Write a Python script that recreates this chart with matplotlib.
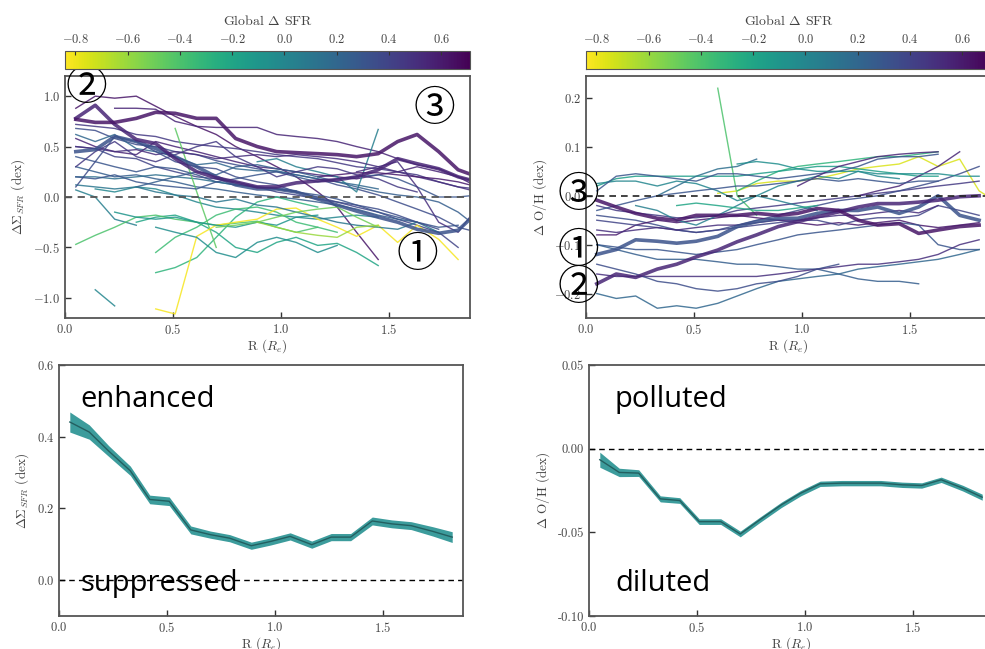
import numpy as np
import matplotlib.pyplot as plt
import matplotlib as mpl

plt.rcParams['font.family'] = 'serif'
plt.rcParams['font.serif'] = ['cmr10', 'DejaVu Serif']
plt.rcParams['mathtext.fontset'] = 'cm'
plt.rcParams['axes.formatter.use_mathtext'] = True
plt.rcParams['axes.unicode_minus'] = True

# radial bins (R / Re)
r_bins = [0.05, 0.14, 0.23, 0.33, 0.42, 0.51, 0.61, 0.70, 0.79, 0.89, 0.98,
          1.07, 1.17, 1.26, 1.35, 1.45, 1.54, 1.63, 1.73, 1.82, 1.91]

# --- individual galaxy profiles: (global dSFR, first bin, values) ---
sfr_thin = [
    (0.62, 0, [0.88, 1.00, 0.98, 1.00, 0.90, 0.80, 0.70, 0.62, 0.50, 0.40, 0.30, 0.20, 0.05, -0.10, -0.35, -0.62]),
    (0.55, 2, [0.88, 0.88, 0.87, 0.75, 0.70, 0.69, 0.69, 0.69, 0.62, 0.60, 0.58, 0.55, 0.50, 0.45, 0.38, 0.32, 0.28, 0.20, 0.10]),
    (0.45, 0, [0.72, 0.70, 0.68, 0.62, 0.60, 0.55, 0.52, 0.50, 0.48, 0.45, 0.42, 0.40, 0.38, 0.34, 0.30, 0.28, 0.25, 0.22, 0.15, 0.10, 0.08]),
    (0.35, 0, [0.68, 0.66, 0.58, 0.52, 0.50, 0.45, 0.42, 0.36, 0.32, 0.28, 0.25, 0.22, 0.18, 0.12, 0.08, 0.02, -0.05, -0.12, -0.20, -0.30, -0.35]),
    (0.20, 0, [0.62, 0.55, 0.62, 0.48, 0.45, 0.40, 0.32, 0.34, 0.28, 0.26, 0.26, 0.22, 0.18, 0.15, 0.12, 0.08]),
    (0.55, 0, [0.58, 0.50, 0.45, 0.42, 0.55, 0.50, 0.45, 0.40, 0.35, 0.30, 0.28, 0.25, 0.22, 0.20, 0.18, 0.22, 0.25, 0.30, 0.25, 0.20, 0.15]),
    (0.40, 0, [0.50, 0.48, 0.40, 0.38, 0.30, 0.25, 0.20, 0.18, 0.15, 0.10, 0.05, 0.02, -0.02, -0.05, -0.10, -0.15, -0.22, -0.28, -0.35, -0.50]),
    (0.30, 0, [0.40, 0.35, 0.30, 0.25, 0.30, 0.28, 0.22, 0.15, 0.12, 0.10, 0.08, 0.05, 0.02, -0.02, -0.08, -0.15, -0.20, -0.25, -0.30, -0.28]),
    (0.25, 0, [0.30, 0.25, 0.20, 0.22, 0.18, 0.15, 0.10, 0.08, 0.05, 0.02, 0.00, -0.02, -0.05, -0.08, -0.12, -0.18, -0.22, -0.25]),
    (0.15, 0, [0.20, 0.20, 0.18, 0.20, 0.22, 0.20, 0.18, 0.15, 0.12, 0.10, 0.08, 0.06]),
    (0.05, 0, [0.07, 0.00, -0.22, -0.28]),
    (0.00, 1, [0.08, 0.05, 0.10, 0.08, 0.02, -0.05, -0.10, -0.12, -0.15, -0.18, -0.20, -0.22, -0.20, -0.18, -0.20]),
    (-0.20, 3, [-0.25, -0.20, -0.18, -0.25, -0.35, -0.50, -0.55, -0.45, -0.40, -0.48, -0.46, -0.55, -0.68]),
    (-0.40, 0, [-0.47, -0.38, -0.30, -0.20, -0.18, -0.22, -0.25, -0.28, -0.26, -0.24, -0.30, -0.35, -0.30]),
    (-0.35, 4, [-0.55, -0.40, -0.30, -0.18, -0.12, -0.10, -0.15, -0.25, -0.30, -0.35]),
    (-0.30, 4, [-0.75, -0.70, -0.60, -0.40, -0.20, -0.05, 0.00, -0.05, -0.10]),
    (-0.45, 5, [0.68, 0.05, -0.50]),
    (0.05, 9, [0.35, 0.38, 0.30, 0.25, 0.20, 0.05, 0.67]),
    (-0.82, 4, [-1.11, -1.16, -0.39, -0.28, -0.25, -0.22, -0.12, -0.11, -0.22, -0.30, -0.39, -0.28, -0.45, -0.28, -0.42, -0.62]),
    (0.00, 1, [-0.92, -1.08]),
    (0.50, 0, [0.50, 0.48, 0.45, 0.47, 0.42, 0.45, 0.42, 0.38, 0.40, 0.42, 0.40, 0.42, 0.40, 0.38, 0.35, 0.30, 0.25, 0.20, 0.15, 0.10, 0.05]),
    (0.30, 0, [0.20, 0.18, 0.22, 0.15, 0.12, 0.10, 0.08, 0.15, 0.18, 0.22, 0.25, 0.20, 0.15, 0.18, 0.20, 0.22, 0.18, 0.10, 0.00, 0.00, 0.02]),
    (0.60, 12, [0.20, 0.22, 0.24, 0.24, 0.22, 0.20, 0.18, 0.15, 0.10]),
    (0.25, 3, [0.10, 0.15, 0.20, 0.25, 0.22, 0.30, 0.32, 0.28, 0.25, 0.20, 0.15, 0.10, 0.05, 0.02, 0.00, -0.05, -0.15, -0.30]),
    (0.50, 14, [0.25, 0.30, 0.35, 0.10, -0.25, -0.35, -0.10]),
    (0.10, 0, [0.12, 0.10, 0.08, 0.10, 0.05, 0.02, 0.00, -0.05, -0.02, -0.08, -0.10, -0.15, -0.20, -0.25, -0.28, -0.30, -0.32, -0.25, -0.35]),
    (-0.10, 2, [-0.15, -0.20, -0.22, -0.20, -0.25, -0.28, -0.30, -0.25, -0.28, -0.20, -0.18]),
    (-0.05, 4, [-0.30, -0.35, -0.40, -0.55, -0.60, -0.45, -0.40, -0.45, -0.55, -0.48]),
    (0.45, 0, [0.30, 0.45, 0.55, 0.40, 0.35, 0.42, 0.50, 0.55, 0.40, 0.30, 0.20, 0.25, 0.30, 0.28, 0.22, 0.18, 0.10, 0.05]),
    (0.35, 0, [0.10, 0.35, 0.60, 0.55, 0.45, 0.35, 0.30, 0.28, 0.20, 0.15, 0.12, 0.05, 0.00, -0.05, -0.08, -0.12, -0.18, -0.25, -0.32]),
    (-0.50, 7, [-0.30, -0.28, -0.25, -0.20, -0.15, -0.12, -0.10, -0.20, -0.30]),
    (-0.60, 9, [-0.25, -0.30, -0.35, -0.38, -0.40, -0.30, -0.28]),
]

sfr_thick = [
    (0.32, 0, [0.45, 0.47, 0.60, 0.55, 0.48, 0.40, 0.30, 0.20, 0.12, 0.08, 0.08, 0.05, -0.02, -0.08, -0.14, -0.20, -0.25, -0.32, -0.36, -0.33, -0.15]),
    (0.55, 0, [0.78, 0.91, 0.72, 0.57, 0.53, 0.38, 0.25, 0.19, 0.15, 0.10, 0.10, 0.14, 0.16, 0.17, 0.20, 0.27, 0.38, 0.33, 0.28, 0.20, 0.15]),
    (0.62, 0, [0.77, 0.74, 0.74, 0.78, 0.84, 0.83, 0.78, 0.78, 0.58, 0.50, 0.45, 0.44, 0.43, 0.42, 0.40, 0.43, 0.55, 0.62, 0.45, 0.27, 0.20]),
]

oh_thin = [
    (-0.40, 6, [0.22, 0.00, -0.04]),
    (-0.75, 6, [0.005, 0.01, 0.025, 0.03, 0.03, 0.035, 0.045, 0.055, 0.06, 0.065, 0.08, 0.06, 0.075, 0.01, -0.015]),
    (-0.30, 7, [0.01, 0.03, 0.05, 0.06, 0.065, 0.07, 0.075, 0.08, 0.08, 0.085, 0.09]),
    (-0.15, 0, [0.02, 0.035, 0.04, 0.04, 0.04, 0.04, 0.04, 0.04, 0.045, 0.05, 0.055, 0.06, 0.06, 0.055, 0.05, 0.045, 0.04, 0.04]),
    (0.00, 0, [0.025, 0.03, 0.03, 0.02, 0.03, 0.025, 0.01, -0.01, 0.00, 0.02, 0.03, 0.04, 0.035, 0.05, 0.04, 0.035]),
    (0.30, 0, [0.01, 0.04, 0.045, 0.04, 0.035, 0.03, 0.045, 0.045, 0.04, 0.035, 0.04, 0.045, 0.05, 0.06, 0.075, 0.08, 0.08, 0.085]),
    (0.55, 10, [0.02, 0.04, 0.06, 0.07, 0.08, 0.085, 0.088, 0.09]),
    (0.15, 3, [0.00, 0.02, 0.04, 0.055, 0.06, 0.075]),
    (0.45, 0, [-0.02, -0.03, -0.035, -0.04, -0.045, -0.045, -0.04, -0.03, -0.025, -0.02, -0.015, -0.01, -0.005, 0.00, 0.005, 0.01, 0.015, 0.02, 0.025, 0.03]),
    (0.35, 0, [-0.04, -0.045, -0.05, -0.06, -0.07, -0.075, -0.07, -0.06, -0.05, -0.04, -0.03, -0.02, -0.01, -0.005, 0.00, 0.01, 0.02, 0.03, 0.045, 0.06]),
    (0.60, 0, [-0.08, -0.08, -0.06, -0.05, -0.055, -0.05, -0.045, -0.04, -0.045, -0.05, -0.055, -0.06, -0.055, -0.06, -0.055, -0.05, -0.06, -0.065, -0.06, -0.055]),
    (0.30, 0, [-0.10, -0.105, -0.11, -0.11, -0.115, -0.12, -0.115, -0.11, -0.10, -0.09, -0.08, -0.075, -0.07, -0.065, -0.06, -0.055, -0.06, -0.10, -0.11, -0.11]),
    (0.25, 0, [-0.10, -0.11, -0.12, -0.13, -0.13, -0.13, -0.135, -0.14, -0.14, -0.145, -0.15, -0.15, -0.16, -0.17, -0.175, -0.175, -0.18]),
    (0.20, 0, [-0.20, -0.21, -0.205, -0.23, -0.225, -0.23, -0.22, -0.205, -0.19, -0.175, -0.17, -0.165, -0.16, -0.15, -0.145, -0.14, -0.135, -0.13, -0.12, -0.11]),
    (0.50, 0, [-0.16, -0.165, -0.165, -0.165, -0.165, -0.165, -0.165, -0.165, -0.165, -0.16, -0.155, -0.15, -0.145, -0.14, -0.14, -0.135, -0.13, -0.12, -0.10, -0.09]),
    (0.35, 0, [-0.14, -0.15, -0.16, -0.175, -0.18, -0.19, -0.195, -0.19, -0.18, -0.175, -0.165, -0.15, -0.14]),
    (0.55, 13, [0.00, 0.01, 0.02, 0.04, 0.06, 0.09]),
    (0.40, 0, [-0.05, -0.055, -0.06, -0.065, -0.07, -0.075, -0.07, -0.065, -0.06, -0.055, -0.05, -0.05, -0.06, -0.05, -0.045, -0.045, -0.04, -0.02, -0.03, -0.04]),
    (0.05, 2, [-0.02, -0.03, -0.05, -0.06, -0.04, -0.02, 0.00, -0.01, -0.02, -0.03]),
    (-0.20, 4, [-0.02, -0.015, -0.02, -0.025, -0.03, -0.03, -0.025, -0.02]),
    (0.50, 0, [-0.07, -0.075, -0.07, -0.065, -0.07, -0.065, -0.06, -0.06, -0.055, -0.05, -0.05, -0.045, -0.04, -0.04, -0.035, -0.03, -0.035, -0.02]),
    (0.30, 0, [-0.03, -0.02, -0.01, 0.00, 0.005, 0.01, 0.015, 0.02, 0.02, 0.025, 0.03, 0.035, 0.03, 0.035, 0.03, 0.025, 0.03, 0.03]),
    (-0.05, 7, [0.065, 0.07, 0.065, 0.055, 0.05, 0.05, 0.05, 0.045, 0.045, 0.045, 0.045, 0.04, 0.04]),
]

oh_thick = [
    (0.32, 0, [-0.12, -0.11, -0.09, -0.093, -0.097, -0.093, -0.083, -0.063, -0.053, -0.046, -0.046, -0.036, -0.03, -0.03, -0.023, -0.036, -0.023, 0.00, -0.04, -0.05]),
    (0.55, 0, [-0.18, -0.16, -0.167, -0.15, -0.14, -0.125, -0.111, -0.094, -0.08, -0.063, -0.053, -0.043, -0.033, -0.023, -0.016, -0.016, -0.013, -0.009, -0.002, 0.00]),
    (0.62, 0, [-0.009, -0.023, -0.036, -0.046, -0.05, -0.04, -0.04, -0.04, -0.036, -0.04, -0.036, -0.026, -0.03, -0.05, -0.06, -0.057, -0.077, -0.07, -0.063, -0.06]),
]

# --- stacked (median) profiles ---
stack_r = r_bins[:20]
stack_sfr = [0.441, 0.413, 0.36, 0.305, 0.225, 0.22, 0.14, 0.127, 0.117, 0.096,
             0.108, 0.122, 0.099, 0.12, 0.12, 0.165, 0.157, 0.152, 0.136, 0.12]
stack_sfr_err = [0.028, 0.02, 0.015, 0.013, 0.012, 0.012, 0.011, 0.01, 0.01, 0.01,
                 0.01, 0.01, 0.01, 0.01, 0.01, 0.011, 0.011, 0.011, 0.013, 0.015]
stack_oh = [-0.0066, -0.0142, -0.0146, -0.030, -0.031, -0.0436, -0.0436, -0.051, -0.0426, -0.0336,
            -0.0266, -0.021, -0.0206, -0.0206, -0.0206, -0.0216, -0.022, -0.0186, -0.0236, -0.029]
stack_oh_err = [0.0045, 0.0025, 0.002, 0.0018, 0.0017, 0.0017, 0.0017, 0.0017, 0.0016, 0.0016,
                0.0016, 0.0016, 0.0016, 0.0016, 0.0016, 0.0016, 0.0016, 0.0016, 0.0017, 0.0018]

cmap = plt.get_cmap('viridis_r')
norm = mpl.colors.Normalize(vmin=-0.84, vmax=0.71)
gray = '#444444'
band_color = '#3c9c9c'
line_color = '#235f60'

fig = plt.figure(figsize=(9.85, 6.49), dpi=100)
W, H = 985.0, 649.0


def px_axes(x0, y0, x1, y1):
    return fig.add_axes([x0 / W, 1 - y1 / H, (x1 - x0) / W, (y1 - y0) / H])


def style(ax):
    for sp in ax.spines.values():
        sp.set_color('#555555')
        sp.set_linewidth(1.3)
    ax.tick_params(direction='in', length=4, width=1, colors='#333333',
                   labelsize=9, labelcolor=gray, top=False, right=False)
    ax.set_xlabel(r'R ($R_e$)', color=gray, fontsize=9.5, labelpad=0)


def draw_profiles(ax, thin, thick):
    for gval, start, vals in thin:
        ax.plot(r_bins[start:start + len(vals)], vals, color=cmap(norm(gval)),
                lw=1.0, alpha=0.85)
    for gval, start, vals in thick:
        ax.plot(r_bins[start:start + len(vals)], vals, color=cmap(norm(gval)),
                lw=2.6, alpha=0.85)


def add_cbar(x0, x1):
    cax = px_axes(x0, 51, x1, 69)
    sm = mpl.cm.ScalarMappable(norm=norm, cmap=cmap)
    cb = fig.colorbar(sm, cax=cax, orientation='horizontal')
    cax.xaxis.set_ticks_position('top')
    cax.xaxis.set_label_position('top')
    cb.set_ticks([-0.8, -0.6, -0.4, -0.2, 0.0, 0.2, 0.4, 0.6])
    cb.set_label(r'Global $\Delta$ SFR', color=gray, fontsize=10, labelpad=6)
    cb.outline.set_edgecolor('#555555')
    cax.tick_params(direction='in', length=3, colors='#333333', labelsize=9,
                    labelcolor=gray)


circ_font = dict(family=['Noto Sans CJK JP', 'DejaVu Sans'], fontsize=30,
                 ha='center', va='center', clip_on=False, zorder=10)

# top left: SFR profiles
ax1 = px_axes(65, 76, 470, 318)
draw_profiles(ax1, sfr_thin, sfr_thick)
ax1.axhline(0, color='#555555', ls='--', lw=1.3, dashes=(4, 3))
ax1.set_xlim(0, 1.875)
ax1.set_ylim(-1.2, 1.2)
ax1.set_xticks([0.0, 0.5, 1.0, 1.5])
ax1.set_yticks([-1.0, -0.5, 0.0, 0.5, 1.0])
ax1.set_ylabel(r'$\Delta\Sigma_{SFR}$ (dex)', color=gray, fontsize=9.5)
style(ax1)
ax1.text(0.10, 1.08, '②', **circ_font)
ax1.text(1.71, 0.865, '③', **circ_font)
ax1.text(1.63, -0.58, '①', **circ_font)
add_cbar(65, 470)

# top right: O/H profiles
ax2 = px_axes(586, 76, 991, 318)
draw_profiles(ax2, oh_thin, oh_thick)
ax2.axhline(0, color='#222222', ls='--', lw=1.2, dashes=(4, 3))
ax2.set_xlim(0, 1.875)
ax2.set_ylim(-0.25, 0.245)
ax2.set_xticks([0.0, 0.5, 1.0, 1.5])
ax2.set_yticks([-0.2, -0.1, 0.0, 0.1, 0.2])
ax2.set_ylabel(r'$\Delta$ O/H (dex)', color=gray, fontsize=9.5)
style(ax2)
ax2.text(-0.037, 0.0, '③', **circ_font)
ax2.text(-0.037, -0.113, '①', **circ_font)
ax2.text(-0.037, -0.189, '②', **circ_font)
add_cbar(586, 991)

# bottom left: stacked SFR
s_lo = np.array(stack_sfr) - np.array(stack_sfr_err)
s_hi = np.array(stack_sfr) + np.array(stack_sfr_err)
ax3 = px_axes(59, 365, 463, 616)
ax3.fill_between(stack_r, s_lo, s_hi, color=band_color, lw=0)
ax3.plot(stack_r, stack_sfr, color=line_color, lw=1.0)
ax3.axhline(0, color='black', ls='--', lw=1.0, dashes=(4, 3))
ax3.set_xlim(0, 1.87)
ax3.set_ylim(-0.1, 0.6)
ax3.set_xticks([0.0, 0.5, 1.0, 1.5])
ax3.set_yticks([0.0, 0.2, 0.4, 0.6])
ax3.set_ylabel(r'$\Delta\Sigma_{SFR}$ (dex)', color=gray, fontsize=9.5)
style(ax3)
lbl_font = dict(family='Open Sans', fontsize=21, color='black', va='center')
ax3.text(0.098, 0.505, 'enhanced', **lbl_font)
ax3.text(0.098, -0.008, 'suppressed', **lbl_font)

# bottom right: stacked O/H
o_lo = np.array(stack_oh) - np.array(stack_oh_err)
o_hi = np.array(stack_oh) + np.array(stack_oh_err)
ax4 = px_axes(589, 365, 993, 616)
ax4.fill_between(stack_r, o_lo, o_hi, color=band_color, lw=0)
ax4.plot(stack_r, stack_oh, color=line_color, lw=1.0)
ax4.axhline(0, color='black', ls='--', lw=1.0, dashes=(4, 3))
ax4.set_xlim(0, 1.87)
ax4.set_ylim(-0.1, 0.05)
ax4.set_xticks([0.0, 0.5, 1.0, 1.5])
ax4.set_yticks([-0.10, -0.05, 0.00, 0.05])
ax4.yaxis.set_major_formatter(mpl.ticker.FormatStrFormatter('%.2f'))
ax4.set_ylabel(r'$\Delta$ O/H (dex)', color=gray, fontsize=9.5)
style(ax4)
ax4.text(0.12, 0.0295, 'polluted', **lbl_font)
ax4.text(0.12, -0.0807, 'diluted', **lbl_font)

fig.savefig('out.png', dpi=100)
